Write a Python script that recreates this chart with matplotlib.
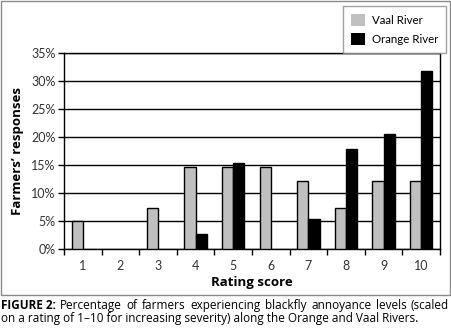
import numpy as np
import matplotlib
matplotlib.use('Agg')
import matplotlib.pyplot as plt
from matplotlib.patches import Rectangle

scores = [1, 2, 3, 4, 5, 6, 7, 8, 9, 10]
vaal = [5.0, 0, 7.3, 14.6, 14.6, 14.6, 12.2, 7.3, 12.2, 12.2]
orange = [0, 0, 0, 2.7, 15.4, 0, 5.3, 17.9, 20.5, 31.7]
yticks = [0, 5, 10, 15, 20, 25, 30, 35]

fig = plt.figure(figsize=(4.52, 3.32), dpi=100)
fig.patch.set_facecolor('white')

# grey frame around the chart part
fig.patches.append(Rectangle((0.5/452, 37/332), 450/452, 294.5/332, transform=fig.transFigure,
                             fill=False, edgecolor='#8a8a8a', linewidth=1.0))

ax = fig.add_axes([64/452, 83/332, 376/452, 196/332])
x = np.array(scores)
v = np.array(vaal)
o = np.array(orange)
w = 0.30
# empty categories have no bar at all
b1 = ax.bar(x[v > 0] - w/2, v[v > 0], w, color='#c0c0c0', edgecolor='black', linewidth=1.0,
            label='Vaal River', zorder=3)
b2 = ax.bar(x[o > 0] + w/2, o[o > 0], w, color='black', edgecolor='black', linewidth=1.0,
            label='Orange River', zorder=3)

ax.set_xlim(0.5, 10.5)
ax.set_ylim(0, 35)
ax.set_yticks(yticks)
ax.set_yticklabels([str(t) + '%' for t in yticks])
ax.yaxis.grid(True, color='black', linewidth=1.0, zorder=0)
ax.set_axisbelow(True)

ax.set_xticks(scores)
ax.set_xticklabels([str(s) for s in scores])
ax.set_xticks(np.arange(0.5, 11, 1), minor=True)
ax.tick_params(axis='x', which='major', length=0, pad=8)
ax.tick_params(axis='x', which='minor', length=4, width=1, direction='out')
ax.tick_params(axis='y', length=4, width=1, direction='out', pad=2)
ax.tick_params(labelsize=9, labelcolor='#333333')
for lab in ax.get_xticklabels() + ax.get_yticklabels():
    lab.set_family('Lato')
for sp in ax.spines.values():
    sp.set_linewidth(1.0)
    sp.set_color('black')

ax.set_ylabel('Farmers\u2019 responses', fontsize=9.5, fontweight='bold', family='Open Sans', labelpad=5)
ax.set_xlabel('Rating score', fontsize=9.5, fontweight='bold', family='Open Sans', labelpad=3)

leg = fig.legend(handles=[b1, b2], loc='upper right', bbox_to_anchor=(446/452, 1 - 6/332),
                 frameon=True, fancybox=False, edgecolor='#8a8a8a',
                 handlelength=1.2, handleheight=1.2, borderaxespad=0,
                 prop={'family': 'Lato', 'size': 8.3}, borderpad=0.7, labelspacing=0.6,
                 handletextpad=0.55)
leg.get_frame().set_linewidth(1.0)
for h in leg.legend_handles:
    h.set_edgecolor('none')

# caption, first line justified to the full width like the journal layout
cap_size = 8.45
line1 = ['FIGURE 2:'] + 'Percentage of farmers experiencing blackfly annoyance levels (scaled'.split()
line2 = 'on a rating of 1\u201310 for increasing severity) along the Orange and Vaal Rivers.'
y1 = 1 - 299/332
words = []
for i, wd in enumerate(line1):
    words.append(fig.text(0, y1, wd, fontsize=cap_size, family='Open Sans', va='top',
                          fontweight='bold' if i == 0 else 'normal'))
fig.canvas.draw()
widths = [t.get_window_extent().width for t in words]
left, right = 1.0, 449.0
gap = (right - left - sum(widths)) / (len(words) - 1)
xpos = left
for t, wd in zip(words, widths):
    t.set_x(xpos/452)
    xpos += wd + gap
fig.text(1/452, 1 - 312/332, line2, fontsize=cap_size, family='Open Sans', va='top')

fig.savefig('out.png', dpi=100)
